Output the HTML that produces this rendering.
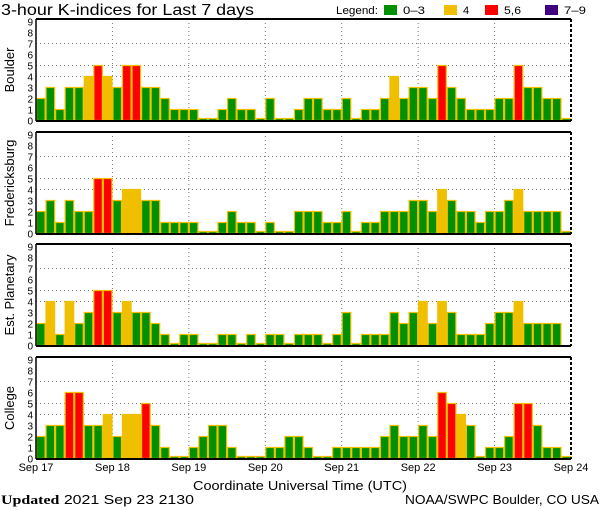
<!DOCTYPE html>
<html><head><meta charset="utf-8">
<style>
html,body{margin:0;padding:0;background:#fff;}
svg{display:block;font-family:"Liberation Sans","DejaVu Sans",sans-serif;}
</style></head>
<body>
<svg id="chart" width="600" height="510" viewBox="0 0 600 510">
<text x="1" y="15" font-size="16" fill="#000" textLength="253" lengthAdjust="spacingAndGlyphs">3-hour K-indices for Last 7 days</text>
<g font-size="11">
<text x="336" y="14" textLength="42" lengthAdjust="spacingAndGlyphs">Legend:</text>
<rect x="384" y="5" width="13" height="10" fill="#009000"/>
<text x="403" y="14" textLength="22" lengthAdjust="spacingAndGlyphs">0–3</text>
<rect x="444" y="5" width="13" height="10" fill="#f0c000"/>
<text x="463" y="14">4</text>
<rect x="485" y="5" width="13" height="10" fill="#ff0000"/>
<text x="504" y="14" textLength="17" lengthAdjust="spacingAndGlyphs">5,6</text>
<rect x="545" y="5" width="13" height="10" fill="#400080"/>
<text x="564" y="14" textLength="22" lengthAdjust="spacingAndGlyphs">7–9</text>
</g>
<text x="193" y="490" font-size="13" textLength="214" lengthAdjust="spacingAndGlyphs">Coordinate Universal Time (UTC)</text>
<text x="1" y="504" font-size="13" textLength="193" lengthAdjust="spacingAndGlyphs"><tspan font-weight="bold" font-family="Liberation Serif, serif">Updated</tspan> 2021 Sep 23 2130</text>
<text x="405" y="504" font-size="13" textLength="194" lengthAdjust="spacingAndGlyphs">NOAA/SWPC Boulder, CO USA</text>
</svg>
<script>
const stations = ["Boulder", "Fredericksburg", "Est. Planetary", "College"];
const dayLabels = ["Sep 17","Sep 18","Sep 19","Sep 20","Sep 21","Sep 22","Sep 23","Sep 24"];
const yTicks = [0,1,2,3,4,5,6,7,8,9];
const boulder = [2,3,1,3,3,4,5,4, 3,5,5,3,3,2,1,1, 1,0,0,1,2,1,1,0, 2,0,0,1,2,2,1,1, 2,0,1,1,2,4,2,3, 3,2,5,3,2,1,1,1, 2,2,5,3,3,2,2,0];
const fredericksburg = [2,3,1,3,2,2,5,5, 3,4,4,3,3,1,1,1, 1,0,0,1,2,1,1,0, 1,0,0,2,2,2,1,1, 2,0,1,1,2,2,2,3, 3,2,4,3,2,2,1,2, 2,3,4,2,2,2,2,0];
const planetary = [2,4,1,4,2,3,5,5, 3,4,3,3,2,1,0,1, 1,0,0,1,1,0,1,0, 1,1,0,1,1,1,0,1, 3,0,1,1,1,3,2,3, 4,2,4,3,1,1,1,2, 3,3,4,2,2,2,2,null];
const college = [2,3,3,6,6,3,3,4, 2,4,4,5,3,1,0,0, 1,2,3,3,1,0,0,0, 1,1,2,2,1,0,0,1, 1,1,1,1,2,3,2,2, 3,2,6,5,4,3,0,1, 1,2,5,5,3,1,1,0];
const series = [boulder, fredericksburg, planetary, college];

const svg = document.getElementById('chart');
const NS = 'http://www.w3.org/2000/svg';
const X0 = 36, X1 = 571, NB = 56;
const panelTops = [19, 132, 244, 357];
const PH = 102, UNIT = 11;
const bw = (X1 - X0) / NB;
function xScale(i){ return X0 + i * bw; }
function mk(tag, attrs){ const e = document.createElementNS(NS, tag); for (const k in attrs) e.setAttribute(k, attrs[k]); return e; }
function color(v){ return v <= 3 ? '#009000' : v === 4 ? '#f0c000' : v <= 6 ? '#ff0000' : '#400080'; }

series.forEach((vals, p) => {
  const top = panelTops[p], bot = top + PH;
  const base = bot - 0.5;
  const yScale = v => base - v * UNIT;
  const g = mk('g', {});
  
  
  svg.appendChild(g);
  [4,5,7].forEach(v => {
    const l = mk('line', {x1: X0, x2: X1, y1: yScale(v), y2: yScale(v), stroke: '#777', 'stroke-dasharray': '1,3'});
    
    
    g.appendChild(l);
  });
  for (let d = 1; d < 7; d++) {
    const l = mk('line', {x1: xScale(d*8), x2: xScale(d*8), y1: top, y2: bot, stroke: '#777', 'stroke-dasharray': '1,3'});
    
    
    g.appendChild(l);
  }
  vals.forEach((v, i) => {
    if (v === null) return;
    const h = v === 0 ? 2 : v * UNIT;
    const r = mk('rect', {x: xScale(i) + 0.5, y: base - h, width: bw - 1, height: h, fill: color(v), stroke: '#f0c000', 'stroke-width': 1.2});
    
    
    g.appendChild(r);
  });
  const t = mk('line', {x1: X0, x2: X1, y1: top, y2: top, stroke: '#000', 'stroke-width': 2});
  
  
  g.appendChild(t);
  const b = mk('line', {x1: X0, x2: X1, y1: bot, y2: bot, stroke: '#000', 'stroke-width': 2});
  
  
  g.appendChild(b);
  const lft = mk('line', {x1: X0, x2: X0, y1: top, y2: bot, stroke: '#000', 'stroke-width': 1.5});
  
  
  g.appendChild(lft);
  const rt = mk('line', {x1: X1, x2: X1, y1: top, y2: bot, stroke: '#000', 'stroke-width': 2, 'stroke-dasharray': '3,2'});
  
  
  g.appendChild(rt);
  yTicks.forEach(v => {
    const tx = mk('text', {x: 33, y: yScale(v) + 4, 'font-size': 10, 'text-anchor': 'end'});
    tx.textContent = v;
    
    
    g.appendChild(tx);
  });
  const cy = top + PH / 2;
  const st = mk('text', {x: 14, y: cy, 'font-size': 13, 'text-anchor': 'middle', transform: 'rotate(-90 14 ' + cy + ')'});
  st.textContent = stations[p];
  
  
  g.appendChild(st);
});
dayLabels.forEach((lab, d) => {
  const tx = mk('text', {x: xScale(d*8), y: 471, 'font-size': 11, 'text-anchor': 'middle'});
  tx.textContent = lab;
  
  
  svg.appendChild(tx);
});
</script>
</body></html>
